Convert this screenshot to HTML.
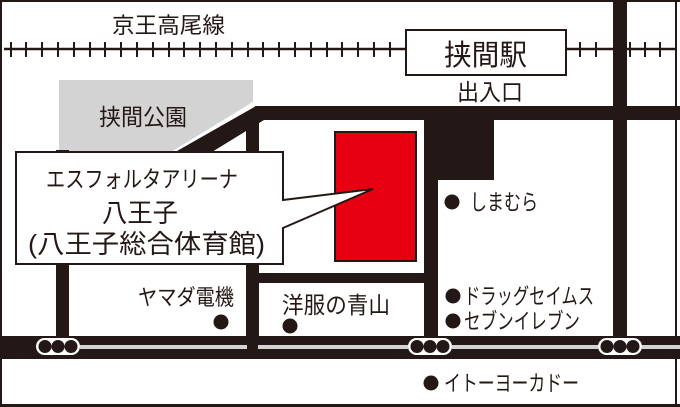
<!DOCTYPE html>
<html><head><meta charset="utf-8"><style>
html,body{margin:0;padding:0;background:#fff}
svg{display:block}
text{font-family:"Liberation Sans","Noto Sans CJK JP",sans-serif;fill:#231815}
</style></head><body>
<svg width="680" height="407" viewBox="0 0 680 407" xmlns="http://www.w3.org/2000/svg">
<rect x="0" y="0" width="680" height="407" fill="#fff"/>
<polygon points="59,80 253,80 253,104 173,152 59,152" fill="#d3d3d3"/>
<line x1="4" y1="49" x2="676" y2="49" stroke="#231815" stroke-width="2.5"/>
<g stroke="#231815" stroke-width="2">
<line x1="11" y1="42" x2="11" y2="57"/><line x1="26" y1="42" x2="26" y2="57"/><line x1="42" y1="42" x2="42" y2="57"/><line x1="58" y1="42" x2="58" y2="57"/><line x1="74" y1="42" x2="74" y2="57"/><line x1="90" y1="42" x2="90" y2="57"/><line x1="105" y1="42" x2="105" y2="57"/><line x1="121" y1="42" x2="121" y2="57"/><line x1="137" y1="42" x2="137" y2="57"/><line x1="153" y1="42" x2="153" y2="57"/><line x1="169" y1="42" x2="169" y2="57"/><line x1="184" y1="42" x2="184" y2="57"/><line x1="200" y1="42" x2="200" y2="57"/><line x1="216" y1="42" x2="216" y2="57"/><line x1="232" y1="42" x2="232" y2="57"/><line x1="248" y1="42" x2="248" y2="57"/><line x1="263" y1="42" x2="263" y2="57"/><line x1="279" y1="42" x2="279" y2="57"/><line x1="295" y1="42" x2="295" y2="57"/><line x1="311" y1="42" x2="311" y2="57"/><line x1="327" y1="42" x2="327" y2="57"/><line x1="342" y1="42" x2="342" y2="57"/><line x1="358" y1="42" x2="358" y2="57"/><line x1="374" y1="42" x2="374" y2="57"/><line x1="390" y1="42" x2="390" y2="57"/>
<line x1="580" y1="42" x2="580" y2="57"/><line x1="596" y1="42" x2="596" y2="57"/><line x1="630" y1="42" x2="630" y2="57"/><line x1="645" y1="42" x2="645" y2="57"/><line x1="660" y1="42" x2="660" y2="57"/>
</g>
<rect x="406" y="30" width="160" height="45" fill="#fff" stroke="#231815" stroke-width="2"/>
<text x="444" y="65" font-size="29" textLength="83" lengthAdjust="spacingAndGlyphs">挟間駅</text>
<text x="112" y="33" font-size="22" textLength="113" lengthAdjust="spacingAndGlyphs">京王高尾線</text>
<text x="457" y="100" font-size="23" textLength="66" lengthAdjust="spacingAndGlyphs">出入口</text>
<text x="99" y="125" font-size="23" textLength="88" lengthAdjust="spacingAndGlyphs">挟間公園</text>
<g fill="#231815">
<rect x="613" y="0" width="14" height="345"/>
<rect x="255" y="106" width="425" height="14"/>
<polygon points="256,106 264,120 69,240 56,230 56,220"/>
<rect x="56" y="150" width="13" height="195"/>
<rect x="246" y="116" width="13" height="230"/>
<rect x="424" y="116" width="14" height="230"/>
<rect x="424" y="116" width="70" height="64"/>
<rect x="246" y="273" width="192" height="10"/>
<rect x="0" y="336" width="680" height="23"/>
<rect x="0" y="0" width="680" height="2"/>
<rect x="0" y="0" width="2" height="407"/>
<rect x="0" y="404" width="680" height="3"/>
<rect x="675" y="0" width="2" height="407"/>
</g>
<line x1="253" y1="103" x2="173" y2="152" stroke="#fff" stroke-width="2"/>
<g fill="#d3d3d3">
<rect x="80" y="345" width="167" height="4"/>
<rect x="258" y="345" width="150" height="4"/>
<rect x="452" y="345" width="146" height="4"/>
<rect x="642" y="345" width="38" height="4"/>
</g>
<g>
<rect x="36" y="338" width="44" height="17" rx="8.5" fill="#fff"/>
<circle cx="45" cy="346.5" r="6.5" fill="#231815"/><circle cx="58" cy="346.5" r="6.5" fill="#231815"/><circle cx="71" cy="346.5" r="6.5" fill="#231815"/>
<rect x="408" y="338" width="44" height="17" rx="8.5" fill="#fff"/>
<circle cx="417" cy="346.5" r="6.5" fill="#231815"/><circle cx="430" cy="346.5" r="6.5" fill="#231815"/><circle cx="443" cy="346.5" r="6.5" fill="#231815"/>
<rect x="598" y="338" width="44" height="17" rx="8.5" fill="#fff"/>
<circle cx="607" cy="346.5" r="6.5" fill="#231815"/><circle cx="620" cy="346.5" r="6.5" fill="#231815"/><circle cx="633" cy="346.5" r="6.5" fill="#231815"/>
</g>
<rect x="335" y="132" width="81" height="129" fill="#e60012" stroke="#231815" stroke-width="2"/>
<polygon points="16,152 283,152 283,200 373,189 283,228 283,264 16,264" fill="#fff" stroke="#231815" stroke-width="2"/>
<text x="46" y="187" font-size="23" textLength="192" lengthAdjust="spacingAndGlyphs">エスフォルタアリーナ</text>
<text x="102" y="222" font-size="26" textLength="76" lengthAdjust="spacingAndGlyphs">八王子</text>
<text x="28" y="253" font-size="26" textLength="237" lengthAdjust="spacingAndGlyphs">(八王子総合体育館)</text>
<g fill="#231815">
<circle cx="452" cy="202" r="7.5"/>
<circle cx="221" cy="322" r="7.5"/>
<circle cx="290" cy="326" r="7.5"/>
<circle cx="453" cy="296" r="7.5"/>
<circle cx="453" cy="321" r="7.5"/>
<circle cx="431" cy="383" r="7.5"/>
</g>
<text x="470" y="210" font-size="22" textLength="68" lengthAdjust="spacingAndGlyphs">しまむら</text>
<text x="138" y="305" font-size="22" textLength="96" lengthAdjust="spacingAndGlyphs">ヤマダ電機</text>
<text x="282" y="313" font-size="23" textLength="108" lengthAdjust="spacingAndGlyphs">洋服の青山</text>
<text x="464" y="304" font-size="22" textLength="130" lengthAdjust="spacingAndGlyphs">ドラッグセイムス</text>
<text x="464" y="329" font-size="22" textLength="116" lengthAdjust="spacingAndGlyphs">セブンイレブン</text>
<text x="444" y="391" font-size="22" textLength="135" lengthAdjust="spacingAndGlyphs">イトーヨーカドー</text>
</svg>
</body></html>
